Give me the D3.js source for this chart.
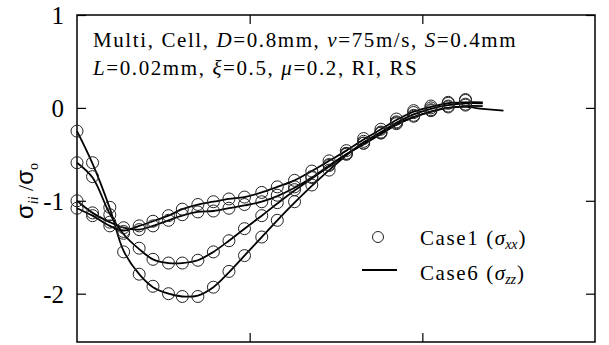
<!DOCTYPE html>
<html>
<head>
<meta charset="utf-8">
<script src="https://cdn.jsdelivr.net/npm/d3@7"></script>
<style>
  body { margin: 0; background: #fff; }
  svg { display: block; }
</style>
</head>
<body>
<div id="chart-container"></div>
<script>
'use strict'

// x positions of the sampled points (circles), in axis units (0..3)
var xs = [0, 0.09, 0.19, 0.27, 0.36, 0.44, 0.53, 0.61, 0.70, 0.79, 0.88, 0.97, 1.07,
          1.16, 1.26, 1.36, 1.46, 1.56, 1.66, 1.76, 1.85, 1.95, 2.05, 2.15, 2.25]
// line samples run a bit further right
var xsLine = xs.concat([2.35, 2.47])

// Case1 (sigma_xx), circles
var case1Deep = [-0.25, -0.59, -1.07, -1.55, -1.79, -1.92, -2.00, -2.03, -2.03, -1.93, -1.76, -1.59, -1.39,
                 -1.21, -1.01, -0.83, -0.67, -0.50, -0.36, -0.26, -0.15, -0.05, 0.00, 0.05, 0.08]
var case1Mid = [-0.59, -0.74, -1.15, -1.35, -1.51, -1.63, -1.67, -1.67, -1.64, -1.55, -1.43, -1.30, -1.16,
                -1.02, -0.88, -0.75, -0.62, -0.49, -0.38, -0.27, -0.17, -0.09, -0.03, 0.01, 0.03]
var case1ShallowA = [-1.00, -1.13, -1.23, -1.29, -1.31, -1.27, -1.21, -1.15, -1.12, -1.11, -1.08, -1.04, -1.01,
                     -0.94, -0.85, -0.74, -0.61, -0.49, -0.38, -0.27, -0.16, -0.08, -0.02, 0.02, 0.04]
var case1ShallowB = [-1.08, -1.16, -1.27, -1.33, -1.27, -1.22, -1.16, -1.09, -1.04, -1.01, -0.98, -0.96, -0.91,
                     -0.85, -0.78, -0.68, -0.57, -0.46, -0.33, -0.23, -0.12, -0.03, 0.02, 0.06, 0.09]

// Case6 (sigma_zz), lines
var case6Deep = [-0.25, -0.60, -1.08, -1.54, -1.79, -1.93, -2.00, -2.03, -2.02, -1.93, -1.77, -1.59, -1.39,
                 -1.21, -1.02, -0.84, -0.67, -0.51, -0.37, -0.26, -0.16, -0.07, -0.01, 0.03, 0.05, 0.05, null]
var case6Mid = [-0.59, -0.75, -1.14, -1.36, -1.52, -1.63, -1.67, -1.67, -1.64, -1.55, -1.43, -1.30, -1.16,
                -1.03, -0.89, -0.76, -0.63, -0.50, -0.39, -0.28, -0.18, -0.10, -0.04, 0.00, 0.02, 0.02, null]
var case6ShallowA = [-1.00, -1.13, -1.23, -1.29, -1.31, -1.27, -1.21, -1.16, -1.12, -1.11, -1.08, -1.05, -1.01,
                     -0.95, -0.86, -0.75, -0.62, -0.50, -0.39, -0.28, -0.18, -0.10, -0.04, 0.00, 0.01, -0.01, -0.03]
var case6ShallowB = [-1.08, -1.16, -1.27, -1.32, -1.27, -1.22, -1.16, -1.09, -1.04, -1.01, -0.98, -0.96, -0.91,
                     -0.85, -0.78, -0.68, -0.57, -0.46, -0.34, -0.23, -0.13, -0.04, 0.01, 0.05, 0.06, 0.06, null]

var yTicks = [1, 0, -1, -2]
var xTicks = [1, 2]
var legendLabels = ['Case1', 'Case6']

var serif = "'Liberation Serif'"
var sans = "'Liberation Sans'"

var svg = d3.select('#chart-container')
    .append('svg')
    .attr('width', 609)
    .attr('height', 345)

var margins = { top: 15, bottom: 3, left: 77, right: 14 }
var width = 609 - margins.left - margins.right
var height = 345 - margins.top - margins.bottom

var x = d3.scaleLinear().domain([0, 3]).range([margins.left, margins.left + width])
var y = d3.scaleLinear().domain([-2.52, 1]).range([margins.top + height, margins.top])

// plot frame
svg.append('rect')
    .attr('x', x(0)).attr('y', y(1))
    .attr('width', x(3) - x(0)).attr('height', y(-2.52) - y(1))
    .attr('fill', 'none').attr('stroke', '#000').attr('stroke-width', 1.5)

var tickLen = 9
// inward ticks on all four sides
var yAxisL = d3.axisRight(y).tickValues(yTicks).tickSize(tickLen).tickFormat('')
var yAxisR = d3.axisLeft(y).tickValues(yTicks).tickSize(tickLen).tickFormat('')
var xAxisB = d3.axisTop(x).tickValues(xTicks).tickSize(tickLen).tickFormat('')
var xAxisT = d3.axisBottom(x).tickValues(xTicks).tickSize(tickLen).tickFormat('')

svg.append('g').attr('transform', 'translate(' + x(0) + ',0)').call(yAxisL)
svg.append('g').attr('transform', 'translate(' + x(3) + ',0)').call(yAxisR)
svg.append('g').attr('transform', 'translate(0,' + y(-2.52) + ')').call(xAxisB)
svg.append('g').attr('transform', 'translate(0,' + y(1) + ')').call(xAxisT)
svg.selectAll('.domain').remove()
svg.selectAll('.tick line').attr('stroke', '#000').attr('stroke-width', 1.2)

// y tick labels
svg.selectAll('.ylab').data(yTicks)
    .enter().append('text')
    .attr('class', 'ylab')
    .attr('x', 64)
    .attr('y', d => y(d) + 9)
    .attr('text-anchor', 'end')
    .style('font-family', serif)
    .style('font-size', '25px')
    .text(d => d)

// y axis title: sigma_ii / sigma_o
var yTitle = svg.append('text')
    .attr('transform', 'translate(33,191) rotate(-90)')
    .attr('text-anchor', 'middle')
    .style('font-family', serif)
    .style('font-size', '22px')
yTitle.append('tspan').style('font-family', sans).style('font-size', '24px').text('σ')
yTitle.append('tspan').attr('dy', 5).style('font-size', '14px').style('font-style', 'italic').text('ii')
yTitle.append('tspan').attr('dy', -5).text(' /')
yTitle.append('tspan').style('font-family', sans).style('font-size', '24px').text('σ')
yTitle.append('tspan').attr('dy', 5).style('font-size', '14px').text('o')

// annotation
var line1 = svg.append('text').attr('x', 93).attr('y', 47)
    .style('font-family', serif).style('font-size', '21px').style('letter-spacing', '1.6px')
line1.append('tspan').text('Multi, Cell, ')
line1.append('tspan').style('font-style', 'italic').text('D')
line1.append('tspan').text('=0.8mm, ')
line1.append('tspan').style('font-style', 'italic').text('v')
line1.append('tspan').text('=75m/s, ')
line1.append('tspan').style('font-style', 'italic').text('S')
line1.append('tspan').text('=0.4mm')

var line2 = svg.append('text').attr('x', 93).attr('y', 75)
    .style('font-family', serif).style('font-size', '21px').style('letter-spacing', '1.6px')
line2.append('tspan').style('font-style', 'italic').text('L')
line2.append('tspan').text('=0.02mm, ')
line2.append('tspan').style('font-style', 'italic').text('ξ')
line2.append('tspan').text('=0.5, ')
line2.append('tspan').style('font-style', 'italic').text('μ')
line2.append('tspan').text('=0.2, RI, RS')

// lines (Case6)
var lineGen = d3.line()
    .x(d => x(d[0]))
    .y(d => y(d[1]))
    .curve(d3.curveCatmullRom.alpha(0.5))

var case6 = [case6Deep, case6Mid, case6ShallowA, case6ShallowB]
svg.selectAll('.case6').data(case6)
    .enter().append('path')
    .attr('class', 'case6')
    .attr('d', s => lineGen(xsLine.map((xv, i) => [xv, s[i]]).filter(p => p[1] !== null)))
    .attr('fill', 'none')
    .attr('stroke', '#000')
    .attr('stroke-width', 1.8)

// circles (Case1)
var case1 = [case1Deep, case1Mid, case1ShallowA, case1ShallowB]
case1.forEach(function(s) {
    svg.append('g').selectAll('circle').data(s)
        .enter().append('circle')
        .attr('cx', (d, i) => x(xs[i]))
        .attr('cy', d => y(d))
        .attr('r', 6)
        .attr('fill', 'none')
        .attr('stroke', '#222')
        .attr('stroke-width', 1)
})

// legend
var legend = svg.append('g')
legend.append('circle').attr('cx', 378).attr('cy', 237).attr('r', 5.5)
    .attr('fill', 'none').attr('stroke', '#222').attr('stroke-width', 1)
legend.append('line').attr('x1', 362).attr('x2', 397).attr('y1', 270).attr('y2', 270)
    .attr('stroke', '#000').attr('stroke-width', 1.8)

var subs = ['xx', 'zz']
legendLabels.forEach(function(lab, i) {
    var t = legend.append('text').attr('x', 420).attr('y', 245 + i * 35)
        .style('font-family', serif).style('font-size', '21px')
    t.append('tspan').style('letter-spacing', '1.6px').text(lab + ' (')
    t.append('tspan').style('font-style', 'italic').text('σ')
    t.append('tspan').attr('dy', 4).style('font-size', '14px').style('font-style', 'italic').text(subs[i])
    t.append('tspan').attr('dy', -4).attr('dx', 1).text(')')
})
</script>
</body>
</html>
